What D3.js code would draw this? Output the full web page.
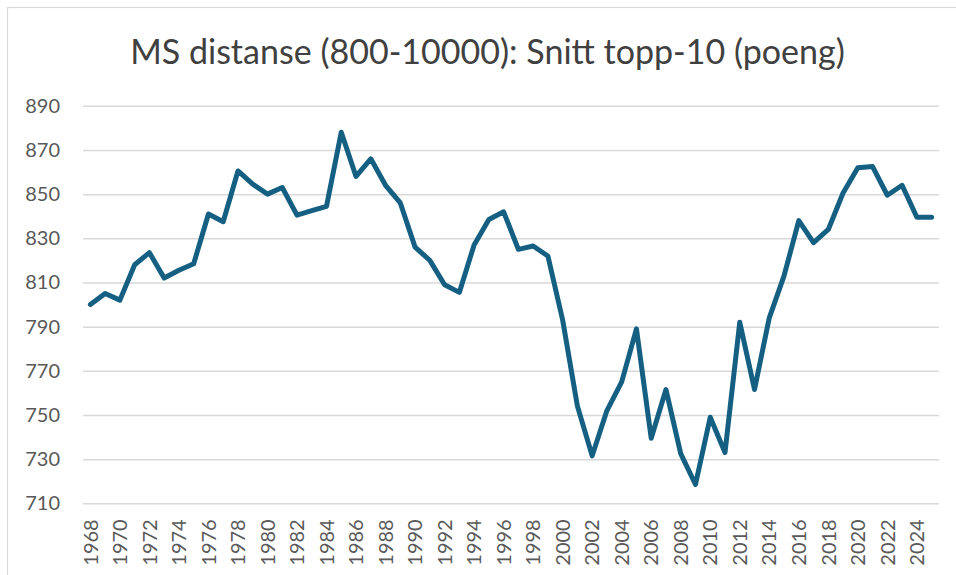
<!DOCTYPE html>
<html>
<head>
<meta charset="utf-8">
<script src="https://cdn.jsdelivr.net/npm/d3@7"></script>
<style>
    body { margin: 0; background: #fff; }
    #chart { width: 956px; height: 575px; }
    .axis text { font-family: Lato, "Open Sans", sans-serif; font-size: 20px; fill: #595959; }
    .title { font-family: Lato, "Open Sans", sans-serif; fill: #404040; }
</style>
</head>
<body>
<div id="chart"></div>
<script>
//Chart data
const years = [1968, 1969, 1970, 1971, 1972, 1973, 1974, 1975, 1976, 1977,
    1978, 1979, 1980, 1981, 1982, 1983, 1984, 1985, 1986, 1987,
    1988, 1989, 1990, 1991, 1992, 1993, 1994, 1995, 1996, 1997,
    1998, 1999, 2000, 2001, 2002, 2003, 2004, 2005, 2006, 2007,
    2008, 2009, 2010, 2011, 2012, 2013, 2014, 2015, 2016, 2017,
    2018, 2019, 2020, 2021, 2022, 2023, 2024, 2025];

const points = [800, 805, 802, 818, 823.5, 812, 815.5, 818.5, 841, 837.5,
    860.5, 854.5, 850, 853, 840.5, 842.5, 844.5, 878, 858, 866,
    854, 846, 826, 820, 809, 805.5, 827, 838.5, 842, 825,
    826.5, 822, 793, 754, 731.5, 752, 765, 789, 739.5, 761.5,
    732.5, 718.5, 749, 733, 792, 761.5, 794, 813, 838, 828,
    834, 850.5, 862, 862.5, 849.5, 854, 839.5, 839.5];

const yTicks = [710, 730, 750, 770, 790, 810, 830, 850, 870, 890];
const xTicks = years.filter((d, i) => i % 2 == 0);

const titleText = "MS distanse (800-10000): Snitt topp-10 (poeng)";

const width = 956;
const height = 575;
const margin = { top: 105.8, left: 83, right: 17, bottom: 71.7 };

const svg = d3.select("#chart")
    .append("svg")
    .attr("width", width)
    .attr("height", height);

//chart area outline (cropped at right and bottom in the reference)
svg.append("rect")
    .attr("x", 7.5)
    .attr("y", 7.5)
    .attr("width", width + 20)
    .attr("height", height + 20)
    .attr("fill", "none")
    .attr("stroke", "#d9d9d9")
    .attr("stroke-width", 1.2);

//scales
const xScale = d3.scaleBand()
    .domain(years)
    .range([margin.left, width - margin.right]);

const yScale = d3.scaleLinear()
    .domain([710, 890])
    .range([height - margin.bottom, margin.top]);

//y axis with gridlines
const yAxis = svg.append("g")
    .attr("class", "axis")
    .attr("transform", `translate(${margin.left},0)`)
    .call(d3.axisLeft(yScale)
        .tickValues(yTicks)
        .tickSize(-(width - margin.left - margin.right))
        .tickPadding(23));

yAxis.select(".domain").remove();
yAxis.selectAll("line")
    .attr("stroke", "#d9d9d9")
    .attr("stroke-width", 1.5);

//x axis, rotated year labels
const xAxis = svg.append("g")
    .attr("class", "axis")
    .attr("transform", `translate(0,${height - margin.bottom})`)
    .call(d3.axisBottom(xScale).tickValues(xTicks).tickSize(0));

xAxis.select(".domain").remove();
xAxis.selectAll("text")
    .attr("transform", "rotate(-90)")
    .attr("x", -16)
    .attr("y", 0)
    .attr("dy", "0.36em")
    .style("text-anchor", "end");

//the line
const line = d3.line()
    .x((d, i) => xScale(years[i]) + xScale.bandwidth() / 2)
    .y(d => yScale(d));

svg.append("path")
    .datum(points)
    .attr("d", line)
    .attr("fill", "none")
    .attr("stroke", "#156082")
    .attr("stroke-width", 5)
    .attr("stroke-linejoin", "round")
    .attr("stroke-linecap", "round");

//title, sized to the width it has in the reference
const title = svg.append("text")
    .attr("class", "title")
    .attr("x", 487.5)
    .attr("y", 64)
    .attr("text-anchor", "middle")
    .style("font-size", "30px")
    .text(titleText);

const len = title.node().getComputedTextLength();
title.style("font-size", (30 * 715 / len) + "px");
</script>
</body>
</html>
